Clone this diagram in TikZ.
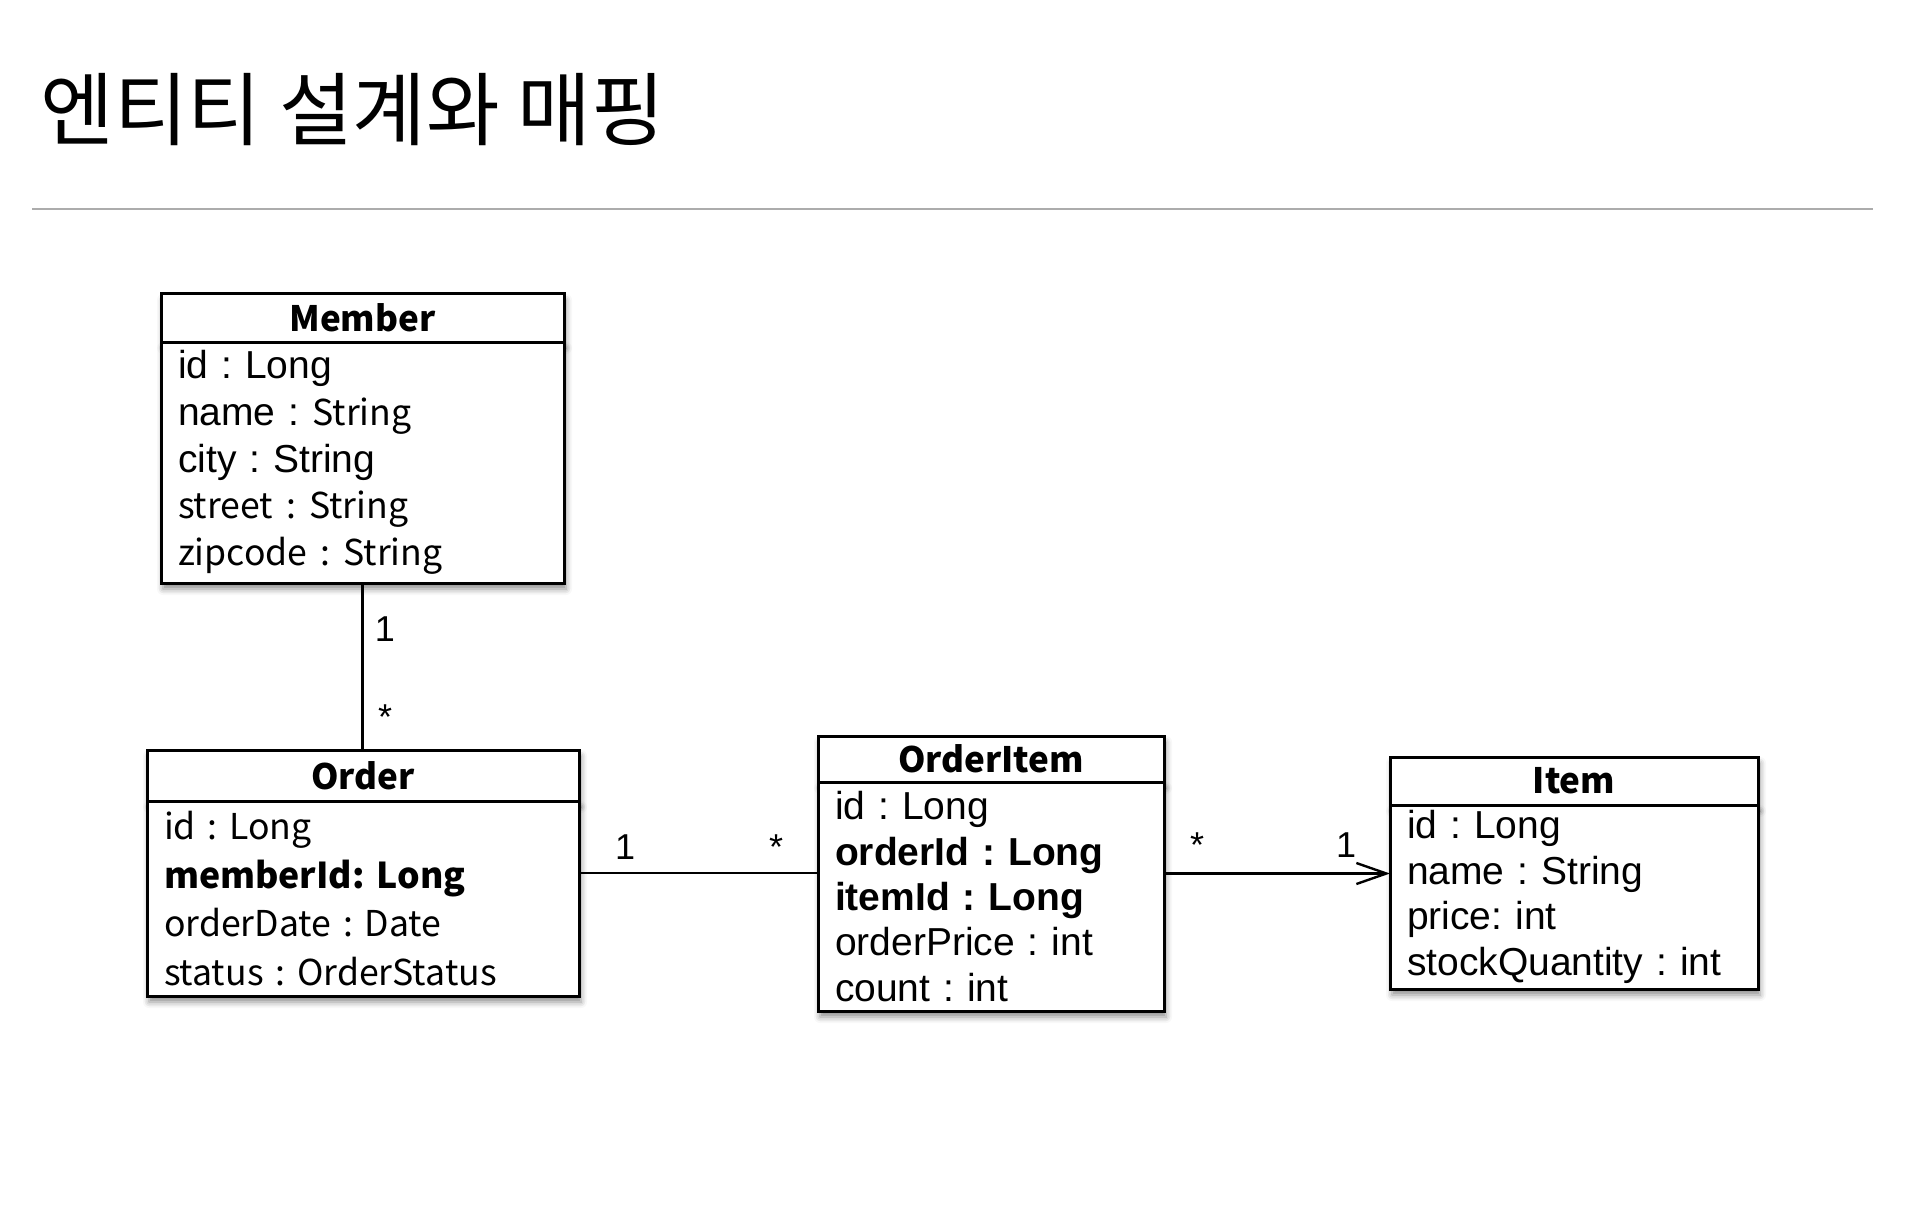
\documentclass[tikz,border=0pt]{standalone}
\usepackage{fontspec}
\setmainfont{Liberation Sans}
\newfontfamily\gt{Noto Sans CJK KR}
\usetikzlibrary{arrows.meta, positioning, shadows.blur}
\frenchspacing
\newcommand\headfont{\gt\bfseries\fontsize{17.5}{20}\selectfont}
\newcommand\multfont{\fontsize{18}{20}\selectfont}
\newcommand\gtext[1]{{\gt\fontsize{17.8}{23.4}\selectfont #1}}
\tikzstyle{boxshadow} = [blur shadow={shadow xshift=1pt, shadow yshift=-3pt, shadow blur radius=3pt, shadow opacity=45}]
\tikzstyle{classhead} = [draw, line width=1.5pt, fill=white, inner sep=0pt, outer sep=0pt, anchor=north west, font=\headfont, boxshadow]
\tikzstyle{classbody} = [draw, line width=1.5pt, fill=white, inner xsep=8.5pt, inner ysep=0pt, outer sep=0pt, align=left, boxshadow]
\tikzstyle{mult} = [font=\multfont, inner sep=0pt]
\tikzstyle{link} = [draw, line width=1.2pt]

\begin{document}
\begin{tikzpicture}[x=0.5pt, y=-0.5pt]
	\useasboundingbox (0,0) rectangle (1914,1208);
	\node [anchor=west, inner sep=0pt, font=\gt\fontsize{40}{48}\selectfont] (title) at (40,110) {엔티티 설계와 매핑};
	\draw [gray!65, line width=1pt] (32,209) -- (1873,209);

	\node [classhead, minimum width=201.5pt, minimum height=24pt] (memberHead) at (161,294) {Member};
	\node [classbody, below=0pt of memberHead, minimum width=201.5pt, text width=184.5pt, minimum height=120.5pt, font=\fontsize{19.5}{23.4}\selectfont] (memberBody)
		{id : Long\\ name : \gtext{String}\\ city : String\\ \gtext{street : String}\\ \gtext{zipcode : String}};

	\node [classhead, minimum width=216pt, minimum height=25.5pt] (orderHead) at (147,750) {Order};
	\node [classbody, below=0pt of orderHead, minimum width=216pt, text width=199pt, minimum height=97.5pt, font=\gt\fontsize{17.8}{24.3}\selectfont] (orderBody)
		{id : Long\\ \textbf{memberId: Long}\\ orderDate : Date\\ status : OrderStatus\par\vspace{12pt}};

	\node [classhead, minimum width=173pt, minimum height=23pt] (orderItemHead) at (818,736) {OrderItem};
	\node [classbody, below=0pt of orderItemHead, minimum width=173pt, text width=156pt, minimum height=114.5pt, font=\fontsize{19.5}{22.7}\selectfont] (orderItemBody)
		{id : Long\\ \textbf{orderId : Long}\\ \textbf{itemId : Long}\\ orderPrice : int\\ count : int\par\vspace{3pt}};

	\node [classhead, minimum width=184pt, minimum height=24pt] (itemHead) at (1390,757) {Item};
	\node [classbody, below=0pt of itemHead, minimum width=184pt, text width=167pt, minimum height=92pt, font=\fontsize{19.5}{22.7}\selectfont] (itemBody)
		{id : Long\\ name : String\\ price: int\\ stockQuantity : int};

	\coordinate (orderLink) at ([yshift=12.75pt]orderBody.east);
	\coordinate (itemLink) at ([yshift=11.5pt]orderItemBody.east);

	\path [link] (memberBody.south) -- (memberBody.south |- orderHead.north);
	\path [link] (orderLink) -- (orderLink -| orderItemBody.west);
	\path [link, -{Straight Barb[length=15pt, width=10.5pt]}] (itemLink) -- (itemLink -| itemBody.west);

	\node [mult] (memberOne) at (385,629) {1};
	\node [mult] (memberMany) at (385,717) {*};
	\node [mult] (orderOne) at (625,847) {1};
	\node [mult] (orderMany) at (776,847) {*};
	\node [mult] (itemMany) at (1197,845) {*};
	\node [mult] (itemOne) at (1346,845) {1};
\end{tikzpicture}
\end{document}
